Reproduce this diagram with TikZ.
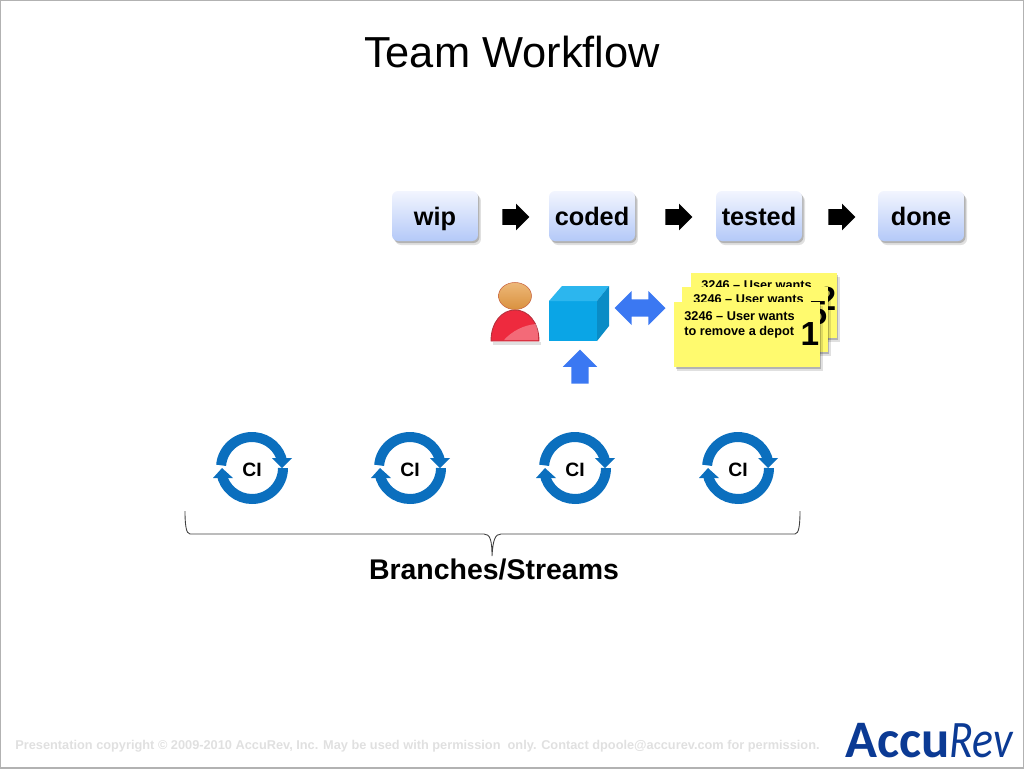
\documentclass[tikz,border=0pt]{standalone}
\usepackage{fontspec}
\setmainfont{Liberation Sans}
\newfontfamily\logofont{Carlito}
\newfontfamily\logorevfont{Carlito}[FakeStretch=0.83]
\usepackage{xcolor}
\usetikzlibrary{arrows.meta,calc,positioning,shadows,shapes.arrows,shapes.geometric}
\definecolor{stagetop}{HTML}{F2F5FE}
\definecolor{stagebot}{HTML}{B4C9F8}
\definecolor{noteyellow}{HTML}{FFFA6E}
\definecolor{ciblue}{HTML}{0B6FBE}
\definecolor{cubefront}{HTML}{0AA5E6}
\definecolor{cubetop}{HTML}{2CB6EE}
\definecolor{cubeside}{HTML}{0A8CC6}
\definecolor{arrowblue}{HTML}{3B78F2}
\definecolor{logoblue}{HTML}{0B3A94}
\definecolor{bodyred}{HTML}{EE2A3E}
\definecolor{bodyedge}{HTML}{B5303C}
\definecolor{headtop}{HTML}{EDB878}
\definecolor{headbot}{HTML}{D9913F}
\tikzset{
  softshadow/.style={drop shadow={shadow xshift=0.06cm,shadow yshift=-0.08cm,fill=black,opacity=0.12},
    drop shadow={shadow xshift=0.03cm,shadow yshift=-0.04cm,fill=black,opacity=0.2}},
  stagebox/.style={rounded corners=0.12cm,minimum width=1.72cm,minimum height=1cm,inner sep=0pt,
    top color=stagetop,bottom color=stagebot,softshadow,text height=13pt,text depth=1.7pt,
    font=\bfseries\fontsize{14.4}{16}\selectfont},
  nextarrow/.style={single arrow,fill=black,inner xsep=0pt,inner ysep=0.15cm,minimum height=0.54cm,minimum width=0.52cm,
    single arrow head extend=0.11cm,single arrow tip angle=90},
  bluearrow/.style={fill=arrowblue,inner sep=0pt,minimum width=0.67cm},
  stickynote/.style={fill=noteyellow,minimum width=2.92cm,minimum height=1.3cm,inner sep=0pt,softshadow},
  notetext/.style={font=\bfseries\fontsize{7.25}{8.6}\selectfont,anchor=north west,inner sep=0pt,align=left},
  notenum/.style={font=\bfseries\fontsize{19}{19}\selectfont,inner sep=0pt},
  cilabel/.style={font=\bfseries\fontsize{11}{12}\selectfont,inner sep=0pt},
}
\begin{document}
\begin{tikzpicture}[x=0.02cm,y=-0.02cm]
  \useasboundingbox (0,0) rectangle (1024,768);
  \draw[gray!60,line width=0.6pt] (0,0) rectangle (1024,768);
  \node (title) at (512,52) {\fontsize{24.7}{28}\selectfont Team Workflow};
  % stages
  \node[stagebox] (wip) at (435,216) {wip};
  \node[stagebox] (coded) at (592,216) {coded};
  \node[stagebox] (tested) at (759,216) {tested};
  \node[stagebox] (done) at (921,216) {done};
  \node[nextarrow] (step1) at (512,217) {};
  \node[nextarrow] (step2) at (675,217) {};
  \node[nextarrow] (step3) at (838,217) {};
  % person and cube
  \fill[black,opacity=0.12] (493,342) rectangle (541,345);
  \fill[bodyred,draw=bodyedge,line width=0.5pt]
    (491,341) .. controls (491,322) and (502,310) .. (515,310) .. controls (528,310) and (539,322) .. (539,341) -- cycle;
  \fill[white,opacity=0.3] (504,340) .. controls (512,331) and (524,325) .. (536,324) .. controls (538,329) and (538,335) .. (538,340) -- cycle;
  \node[ellipse,draw=bodyedge!50!headbot,line width=0.3pt,top color=headtop,bottom color=headbot,minimum width=0.66cm,minimum height=0.54cm,inner sep=0pt] (head) at (515,296) {};
  \fill[cubefront] (549,301) rectangle (597,341);
  \fill[cubetop] (549,301) -- (562,286) -- (609,286) -- (597,301) -- cycle;
  \fill[cubeside] (597,301) -- (609,286) -- (609,326) -- (597,341) -- cycle;
  \node[double arrow,bluearrow,inner ysep=0.165cm,minimum height=1.02cm,double arrow head extend=0.17cm,double arrow tip angle=90] (link) at (640,308) {};
  \node[single arrow,bluearrow,inner xsep=0.165cm,shape border rotate=90,minimum height=0.68cm,single arrow head extend=0.17cm,single arrow tip angle=90] (feed) at (580,371) {};
  % notes, back to front
  \node[stickynote] (note3) at (764,305) {};
  \node[notetext] at (701,280) {3246 -- User wants};
  \node[notenum] (num3) at (827,299) {2};
  \node[stickynote] (note2) at (755,319) {};
  \node[notetext] at (693,294) {3246 -- User wants};
  \node[notenum] (num2) at (818,313) {5};
  \node[stickynote] (note1) at (747,334) {};
  \node[notetext] at (684,311) {3246 -- User wants\\to remove a depot};
  \node[notenum] (num1) at (810,334) {1};
  % CI loops
  \foreach \cx/\cname in {252/a,410/b,575/c,738/d}{
    \node[cilabel] (ci\cname) at (\cx,470) {CI};
    \begin{scope}[shift={(\cx,468)},x=0.02cm,y=0.02cm]
      \draw[ciblue,line width=0.2cm] (175:31) arc[start angle=175,end angle=12,radius=0.62cm];
      \fill[ciblue] (20,10) -- (40,10) -- (30,0) -- cycle;
      \draw[ciblue,line width=0.2cm] (0:31) arc[start angle=0,end angle=-170,radius=0.62cm];
      \fill[ciblue] (-39,-10) -- (-19,-10) -- (-30,0) -- cycle;
    \end{scope}
  }
  % brace
  \coordinate (braceL) at (185,511);
  \coordinate (braceR) at (800,511);
  \coordinate (braceT) at (492,556);
  \draw[black!75,line width=0.5pt] (braceL) .. controls (185,524) and (186,534) .. (190,534) -- (484,534)
    .. controls (490,534) and (492,540) .. (braceT) .. controls (493,540) and (495,534) .. (501,534) -- (795,534)
    .. controls (799,534) and (800,524) .. (braceR);
  \node[font=\bfseries\fontsize{16.2}{20}\selectfont] (streams) at (494,569) {Branches/Streams};
  % footer
  \node[font=\bfseries\fontsize{7.27}{8}\selectfont,text=black!12,anchor=west,inner sep=0pt] (legal) at (15,746) {Presentation copyright © 2009-2010 AccuRev, Inc. May be used with permission~ only. Contact dpoole@accurev.com for permission.};
  \node[text=logoblue,anchor=west,inner sep=0pt,font=\logofont\fontsize{30}{32}\selectfont] (logo) at (845,741) {\textbf{Accu}{\logorevfont\itshape Rev}};
\end{tikzpicture}
\end{document}
